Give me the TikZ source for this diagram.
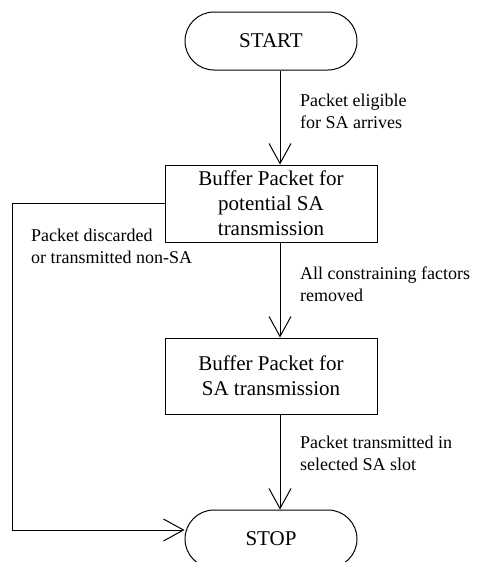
\documentclass[tikz,border=0pt]{standalone}
\usepackage{fontspec}
\setmainfont{Liberation Serif}
\usetikzlibrary{shapes.misc,arrows.meta}
\begin{document}
\begin{tikzpicture}[x=1pt,y=-1pt,
  term/.style={draw,line width=1pt,rounded rectangle,minimum width=172pt,minimum height=58pt,inner sep=0pt,font=\fontsize{21}{25}\selectfont},
  proc/.style={draw,line width=1pt,rectangle,minimum width=212pt,minimum height=77pt,inner sep=0pt,align=center,font=\fontsize{21}{25}\selectfont},
  lbl/.style={anchor=west,align=left,inner sep=0pt,font=\fontsize{18}{22}\selectfont},
  arr/.style={line width=1pt,-{Straight Barb[length=20pt,width=22pt,line width=1pt]}}]
\useasboundingbox (0,0) rectangle (478,562);
\clip (0,0) rectangle (478,562);
\node[term] (start) at (271,41) {START};
\node[proc] (b1) at (271,203.5) {Buffer Packet for\\potential SA\\transmission};
\node[proc,minimum height=76pt] (b2) at (271,376) {Buffer Packet for\\SA transmission};
\node[term] (stop) at (271,539) {STOP};
\coordinate (lc) at (12,204);
\node[lbl] (l1) at (300,111) {Packet eligible\\for SA arrives};
\node[lbl] (l2) at (31,246) {Packet discarded\\or transmitted non-SA};
\node[lbl] (l3) at (300,284) {All constraining factors\\removed};
\node[lbl] (l4) at (300,453) {Packet transmitted in\\selected SA slot};
\draw[arr] ([xshift=9pt]start.south) -- ([xshift=9pt]b1.north);
\draw[arr] ([xshift=9pt]b1.south) -- ([xshift=9pt]b2.north);
\draw[arr] ([xshift=9pt]b2.south) -- ([xshift=9pt]stop.north);
\draw[arr] (b1.west) -- (b1.west -| lc) |- ([yshift=9pt]stop.west);
\end{tikzpicture}
\end{document}
